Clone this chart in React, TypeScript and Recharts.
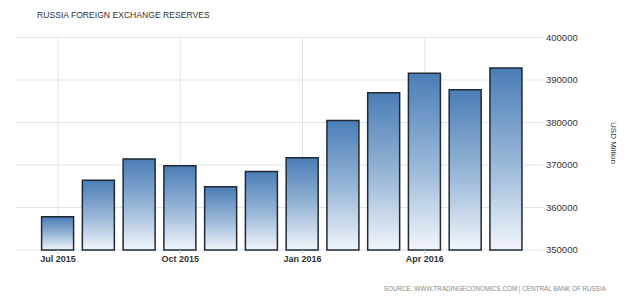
import React from 'react';
import { ComposedChart, Bar, XAxis, YAxis, CartesianGrid, Label } from 'recharts';

const months = ['Jul 2015', 'Aug 2015', 'Sep 2015', 'Oct 2015', 'Nov 2015', 'Dec 2015', 'Jan 2016', 'Feb 2016', 'Mar 2016', 'Apr 2016', 'May 2016', 'Jun 2016'];
const reserves = [357800, 366400, 371400, 369800, 364900, 368500, 371700, 380500, 387000, 391600, 387700, 392800];
const xTickIndex = [0, 3, 6, 9];
const yTicks = [350000, 360000, 370000, 380000, 390000, 400000];

const data = months.map((m, i) => ({ idx: i, month: m, value: reserves[i] }));

const font = '"Liberation Sans", Arial, sans-serif';

export default function App() {
  return (
    <div style={{ position: 'absolute', left: 0, top: 0, width: 640, height: 298, background: '#fff', fontFamily: font }}>
      <div style={{ position: 'absolute', left: 37, top: 10, fontSize: 8.6, color: '#333', whiteSpace: 'nowrap' }}>
        RUSSIA FOREIGN EXCHANGE RESERVES
      </div>
      <ComposedChart width={640} height={298} data={data} margin={{ top: 37.5, left: 16, right: 37, bottom: 18 }}>
        <defs>
          <linearGradient id="barGrad" x1="0" y1="0" x2="0" y2="1">
            <stop offset="0%" stopColor="#4a7db6" />
            <stop offset="55%" stopColor="#9dbad9" />
            <stop offset="100%" stopColor="#f2f6fb" />
          </linearGradient>
        </defs>
        <CartesianGrid stroke="#e4e4e4" strokeWidth={1} syncWithTicks />
        <XAxis
          dataKey="idx"
          type="number"
          domain={[-1.03, 11.9]}
          allowDataOverflow
          ticks={xTickIndex}
          interval={0}
          tickFormatter={(v: number) => months[v] ?? ''}
          height={30}
          axisLine={false}
          tickLine={{ stroke: '#ccc' }}
          tickSize={4}
          tickMargin={2}
          tick={{ fontSize: 9, fill: '#333', fontWeight: 'bold', fontFamily: font }}
        />
        <YAxis
          orientation="right"
          width={60}
          domain={[350000, 400000]}
          ticks={yTicks}
          axisLine={false}
          tickLine={false}
          tickSize={0}
          tickMargin={3}
          tick={{ fontSize: 9.5, fill: '#333', fontFamily: font }}
        >
          <Label
            content={() => (
              <text x={613} y={143} transform="rotate(90, 613, 143)" textAnchor="middle" dominantBaseline="central" fontSize={8} fill="#333" fontFamily={font}>
                USD Million
              </text>
            )}
          />
        </YAxis>
        <Bar dataKey="value" barSize={32} fill="url(#barGrad)" stroke="#1e2a36" strokeWidth={1.5} isAnimationActive={false} />
      </ComposedChart>
      <div style={{ position: 'absolute', right: 34, top: 285, fontSize: 6.3, color: '#888', whiteSpace: 'nowrap' }}>
        SOURCE: WWW.TRADINGECONOMICS.COM | CENTRAL BANK OF RUSSIA
      </div>
    </div>
  );
}
